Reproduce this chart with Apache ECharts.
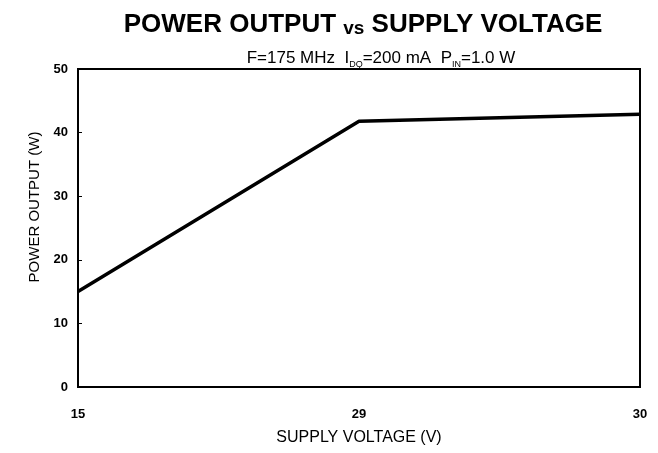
<!DOCTYPE html>
<html>
<head>
<meta charset="utf-8">
<script src="https://cdn.jsdelivr.net/npm/echarts@6/dist/echarts.min.js"></script>
<style>html,body{margin:0;padding:0;background:#fff}#c{width:658px;height:453px}</style>
</head>
<body>
<div id="c"></div>
<script>
const categories = ['15', '29', '30'];
const powerOutput = [15.0, 41.8, 42.9];
const yTicks = [0, 10, 20, 30, 40, 50];

const chart = echarts.init(document.getElementById('c'));
chart.setOption({
  backgroundColor: '#fff',
  animation: false,
  title: [{
    text: '{a|POWER OUTPUT }{b|vs}{a| SUPPLY VOLTAGE}',
    left: 358, textAlign: 'center', top: 7,
    textStyle: { rich: {
      a: { fontFamily: 'Liberation Sans', fontWeight: 'bold', fontSize: 26, color: '#000' },
      b: { fontFamily: 'Liberation Sans', fontWeight: 'bold', fontSize: 19, color: '#000', verticalAlign: 'bottom' }
    } }
  }, {
    text: '{t|F=175 MHz  I}{s|DQ}{t|=200 mA  P}{s|IN}{t|=1.0 W}',
    left: 376, textAlign: 'center', top: 43,
    textStyle: { rich: {
      t: { fontFamily: 'Liberation Sans', fontWeight: 'normal', fontSize: 17, color: '#000' },
      s: { fontFamily: 'Liberation Sans', fontWeight: 'normal', fontSize: 9, color: '#000', padding: [12, 0, 0, 0] }
    } }
  }],
  grid: { left: 78, right: 18, top: 69, bottom: 66, show: true, borderColor: '#000', borderWidth: 2 },
  xAxis: {
    type: 'category', data: categories, boundaryGap: false,
    name: 'SUPPLY VOLTAGE (V)', nameLocation: 'middle', nameGap: 43,
    nameTextStyle: { fontFamily: 'Liberation Sans', fontSize: 16, color: '#000' },
    axisLine: { lineStyle: { color: '#000', width: 2 } },
    axisTick: { show: false },
    axisLabel: { fontFamily: 'Liberation Sans', fontSize: 13, fontWeight: 'bold', color: '#000', margin: 21 },
    splitLine: { show: false }
  },
  yAxis: {
    type: 'value', min: 0, max: 50, interval: 10,
    name: 'POWER OUTPUT (W)', nameLocation: 'middle', nameGap: 36,
    nameTextStyle: { fontFamily: 'Liberation Sans', fontSize: 15, color: '#000', padding: [0, 0, 0, 42] },
    axisLine: { show: true, lineStyle: { color: '#000', width: 2 } },
    axisTick: { show: true, inside: true, length: 4, lineStyle: { color: '#000', width: 1 } },
    axisLabel: { fontFamily: 'Liberation Sans', fontSize: 13, fontWeight: 'bold', color: '#000', margin: 10,
      formatter: v => yTicks.includes(v) ? String(v) : '' },
    splitLine: { show: false }
  },
  series: [{
    type: 'line', data: powerOutput, symbol: 'none',
    lineStyle: { color: '#000', width: 3.5 }
  }]
});
</script>
</body>
</html>
